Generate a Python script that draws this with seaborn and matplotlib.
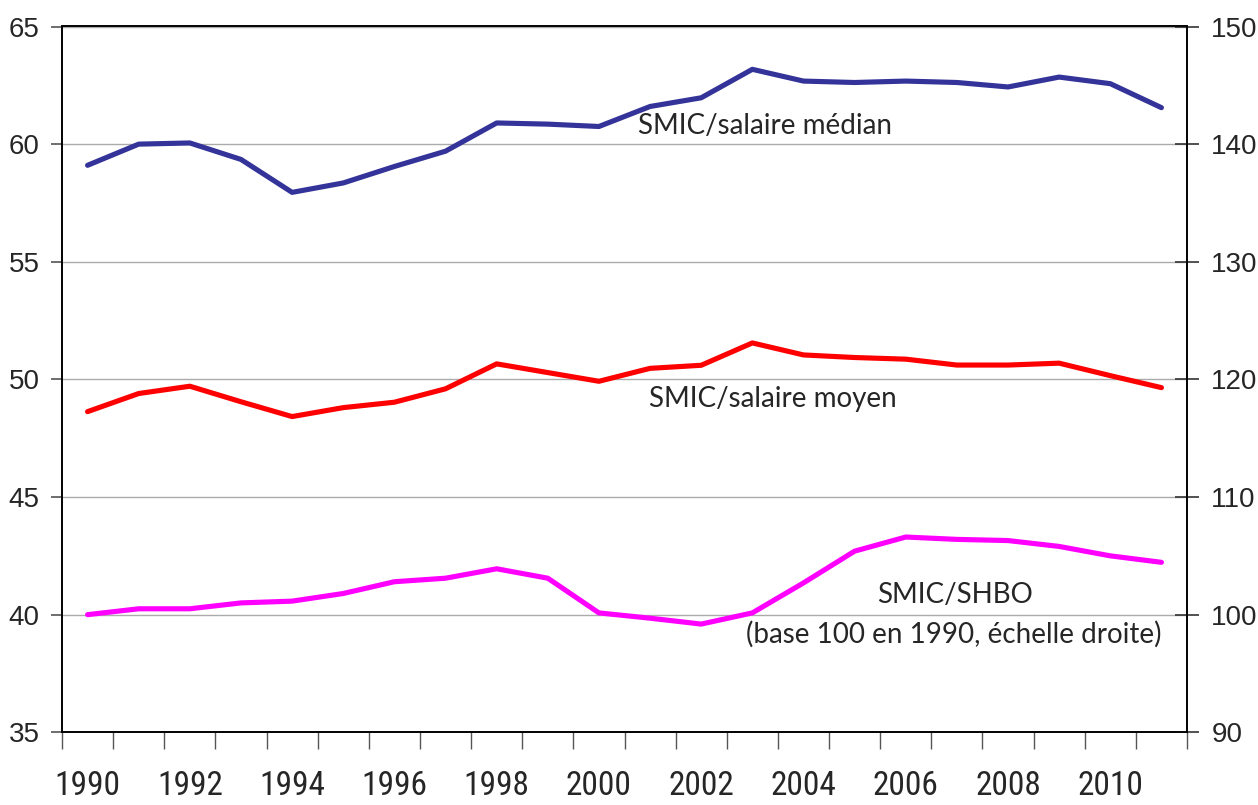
import numpy as np
import pandas as pd
import matplotlib
matplotlib.use("Agg")
import matplotlib.pyplot as plt
from matplotlib import font_manager
from matplotlib.ticker import FixedLocator, NullFormatter
import seaborn as sns

# ---------------- data ----------------
years = list(range(1990, 2012))
smic_median = [59.1, 60.0, 60.05, 59.35, 57.95, 58.35, 59.05, 59.7, 60.9, 60.85, 60.75,
               61.6, 61.97, 63.18, 62.68, 62.62, 62.68, 62.62, 62.43, 62.85, 62.57, 61.55]
smic_moyen = [48.63, 49.4, 49.71, 49.05, 48.42, 48.8, 49.03, 49.6, 50.66, 50.29, 49.92,
              50.47, 50.6, 51.55, 51.04, 50.93, 50.86, 50.61, 50.61, 50.69, 50.16, 49.65]
smic_shbo = [100.0, 100.5, 100.5, 101.0, 101.15, 101.8, 102.8, 103.1, 103.9, 103.1, 100.15,
             99.7, 99.2, 100.15, 102.7, 105.4, 106.6, 106.4, 106.3, 105.8, 105.0, 104.45]
left_ticks = [35, 40, 45, 50, 55, 60, 65]
right_ticks = [90, 100, 110, 120, 130, 140, 150]
year_labels = [str(y) for y in range(1990, 2011, 2)]

label_median = "SMIC/salaire médian"
label_moyen = "SMIC/salaire moyen"
label_shbo = "SMIC/SHBO"
label_shbo2 = "(base 100 en 1990, échelle droite)"

# ---------------- style ----------------
sns.set_theme(style="white")
available = {f.name for f in font_manager.fontManager.ttflist}

def pick(*names):
    for n in names:
        if n in available:
            return n
    return "DejaVu Sans"

num_font = pick("Liberation Sans", "Arial", "DejaVu Sans")
narrow_font = pick("Liberation Sans Narrow", "Roboto Condensed", "Roboto", "Lato")
text_font = pick("Lato", "Open Sans", "Noto Sans", "DejaVu Sans")
plt.rcParams["font.family"] = [num_font, "DejaVu Sans"]

fig = plt.figure(figsize=(12.58, 8.05), dpi=100)
ax = fig.add_axes([62 / 1258, 1 - 732.3 / 805, (1187 - 62) / 1258, (732.3 - 26.5) / 805])
ax2 = ax.twinx()

df = pd.DataFrame({"year": years, "median": smic_median, "moyen": smic_moyen, "shbo": smic_shbo})

lw = 3.7
sns.lineplot(data=df, x="year", y="median", ax=ax, color="#333399", linewidth=lw)
sns.lineplot(data=df, x="year", y="moyen", ax=ax, color="#FF0000", linewidth=lw)
sns.lineplot(data=df, x="year", y="shbo", ax=ax2, color="#FF00FF", linewidth=lw)

for a in (ax, ax2):
    a.set_xlim(years[0] - 0.5, years[-1] + 0.5)
    a.set_xlabel("")
    a.set_ylabel("")

ax.set_ylim(35, 65)
ax2.set_ylim(90, 150)
ax.set_yticks(left_ticks, [str(t) for t in left_ticks])
ax2.set_yticks(right_ticks, [str(t) for t in right_ticks])

# gridlines
ax.grid(axis="y", color="#ABABAB", linewidth=1.0)
ax.grid(axis="x", visible=False)
ax2.grid(False)
ax.set_axisbelow(True)

# x ticks: labels at even years, tick marks at category boundaries
ax.set_xticks([int(y) for y in year_labels], year_labels)
ax.xaxis.set_minor_locator(FixedLocator(np.arange(years[0] - 0.5, years[-1] + 1.0, 1.0)))
ax.xaxis.set_minor_formatter(NullFormatter())
ax.tick_params(axis="x", which="major", length=0, pad=27, labelsize=24,
               labelfontfamily=narrow_font, bottom=True)
ax.tick_params(axis="x", which="minor", length=12, width=1, color="#555555", direction="out",
               bottom=True)
ax2.tick_params(axis="x", which="both", length=0, labelbottom=False)

ax.tick_params(axis="y", which="major", length=8, width=1.2, color="#555555",
               direction="out", pad=8, left=True, labelsize=20, labelfontfamily=num_font)
ax2.tick_params(axis="y", which="major", length=17, width=1.2, color="#333333",
                direction="inout", pad=9, right=True, labelsize=20, labelfontfamily=num_font)

for a in (ax, ax2):
    for s in a.spines.values():
        s.set_visible(True)
        s.set_color("black")
        s.set_linewidth(1.2)

# annotations
tsize = 20
ax.text(years[0] + (638 - 87.5) / 51.1, 60.0 + (144.1 - 126) / 23.53, label_median,
        fontsize=tsize, fontfamily=text_font, ha="left", va="center")
ax.text(years[0] + (649 - 87.5) / 51.1, 50.0 - (400 - 380.7) / 23.53, label_moyen,
        fontsize=tsize, fontfamily=text_font, ha="left", va="center")
ax.text(years[0] + (954 - 87.5) / 51.1, 40.0 + (614.8 - 595) / 23.53, label_shbo,
        fontsize=tsize, fontfamily=text_font, ha="center", va="center")
ax.text(years[0] + (953.5 - 87.5) / 51.1, 40.0 - (634 - 614.8) / 23.53, label_shbo2,
        fontsize=tsize, fontfamily=text_font, ha="center", va="center")

fig.savefig("out.png", dpi=100, facecolor="white")
